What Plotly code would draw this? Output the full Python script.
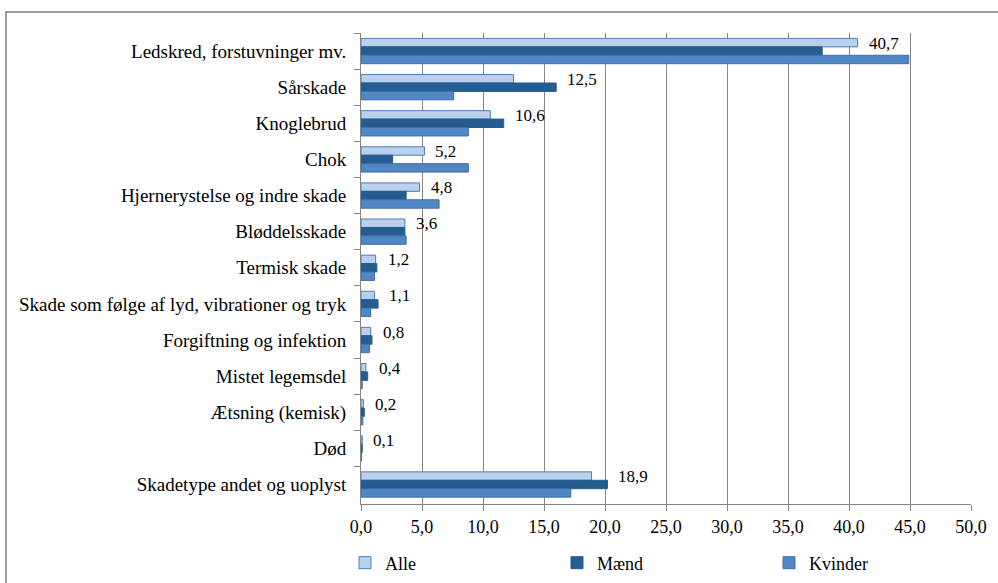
import plotly.graph_objects as go

categories = [
    "Ledskred, forstuvninger mv.",
    "Sårskade",
    "Knoglebrud",
    "Chok",
    "Hjernerystelse og indre skade",
    "Bløddelsskade",
    "Termisk skade",
    "Skade som følge af lyd, vibrationer og tryk",
    "Forgiftning og infektion",
    "Mistet legemsdel",
    "Ætsning (kemisk)",
    "Død",
    "Skadetype andet og uoplyst",
]
alle = [40.7, 12.5, 10.6, 5.2, 4.8, 3.6, 1.2, 1.1, 0.8, 0.4, 0.2, 0.1, 18.9]
maend = [37.8, 16.0, 11.7, 2.6, 3.7, 3.6, 1.3, 1.4, 0.9, 0.55, 0.27, 0.1, 20.2]
kvinder = [44.9, 7.6, 8.8, 8.8, 6.4, 3.7, 1.1, 0.8, 0.7, 0.1, 0.15, 0.05, 17.2]
x_ticks = [0, 5, 10, 15, 20, 25, 30, 35, 40, 45, 50]

SERIF = "Times New Roman, Liberation Serif, serif"
W, H = 998, 583
L, R, T, B = 361, 27, 33, 79
pw, ph = W - L - R, H - T - B

def px2paper_x(px):
    return (px - L) / pw

def px2paper_y(py):
    return (H - B - py) / ph

fig = go.Figure()
series = [
    ("Alle", alle, "#B9D1EC", "#4A7EBB"),
    ("Mænd", maend, "#255D91", "#255D91"),
    ("Kvinder", kvinder, "#4F86C3", "#3D6FA8"),
]
for name, vals, fill, line in series:
    fig.add_trace(go.Bar(
        y=categories, x=vals, name=name, orientation="h",
        marker=dict(color=fill, line=dict(color=line, width=1)),
        hoverinfo="skip",
    ))

for c, a, m in zip(categories, alle, maend):
    fig.add_annotation(
        x=max(a, m), y=c, text=f"{a:.1f}".replace(".", ","),
        xanchor="left", yanchor="middle", xshift=9, yshift=8,
        showarrow=False, font=dict(family=SERIF, size=17, color="#000"),
    )

# chart border
fig.add_shape(type="rect", xref="paper", yref="paper",
              x0=px2paper_x(6), x1=px2paper_x(1005),
              y0=px2paper_y(595), y1=px2paper_y(12),
              line=dict(color="#7F7F7F", width=1.5), layer="below")

fig.update_layout(
    width=W, height=H,
    margin=dict(l=L, r=R, t=T, b=B, autoexpand=False),
    paper_bgcolor="white", plot_bgcolor="white",
    separators=",.",
    barmode="group", bargap=0.3, bargroupgap=0,
    font=dict(family=SERIF, size=18, color="#000"),
    showlegend=True,
    legend=dict(
        orientation="h", x=px2paper_x(345), xanchor="left",
        y=px2paper_y(563), yanchor="middle",
        font=dict(family=SERIF, size=18, color="#000"),
        entrywidth=167, entrywidthmode="pixels",
        itemwidth=30, traceorder="normal",
    ),
)
fig.update_xaxes(
    range=[0, 50], tickvals=x_ticks, tickformat=".1f",
    showgrid=True, gridcolor="#868686", gridwidth=1,
    showline=True, linecolor="#868686", linewidth=1,
    ticks="outside", ticklen=6, tickcolor="#868686",
    tickfont=dict(family=SERIF, size=18, color="#000"),
    zeroline=False, fixedrange=True, automargin=False,
)
fig.update_yaxes(
    autorange="reversed", type="category",
    showline=True, linecolor="#868686", linewidth=1,
    ticks="outside", ticklen=6, tickcolor="#868686",
    tickson="boundaries", ticklabelstandoff=10,
    tickfont=dict(family=SERIF, size=19, color="#000"),
    showgrid=False, fixedrange=True, automargin=False,
)

fig.write_html(
    "out.html",
    config={"displayModeBar": False, "staticPlot": True},
    post_script="document.body.style.margin='0';document.body.style.overflow='hidden';",
)
